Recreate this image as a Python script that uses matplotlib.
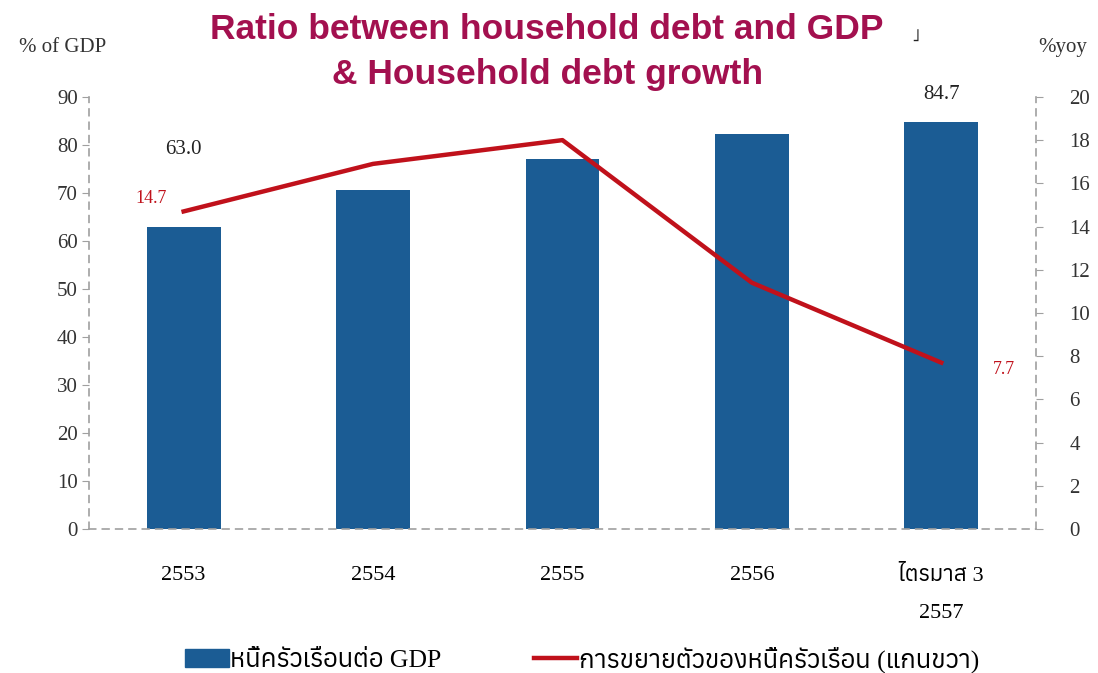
import matplotlib
matplotlib.use("Agg")
import matplotlib.pyplot as plt
from matplotlib import font_manager
from matplotlib.ft2font import FT2Font
from matplotlib.patches import Patch
from matplotlib.lines import Line2D
import numpy as np

categories = ["2553", "2554", "2555", "2556", "ไตรมาส 3\n2557"]
debt_to_gdp = [63.0, 70.6, 77.1, 82.3, 84.7]
debt_growth = [14.7, 16.9, 18.0, 11.4, 7.7]
left_ticks = [0, 10, 20, 30, 40, 50, 60, 70, 80, 90]
right_ticks = [0, 2, 4, 6, 8, 10, 12, 14, 16, 18, 20]

# find a font that has Thai glyphs
thai_fonts = []
for f in font_manager.findSystemFonts():
    try:
        ft = FT2Font(f)
        cm = ft.get_charmap()
        if ord("ห") in cm and ord("ค") in cm:
            thai_fonts.append(font_manager.FontProperties(fname=f).get_name())
    except Exception:
        pass
thai_fonts = sorted(set(thai_fonts))
serif = ["Liberation Serif"] + thai_fonts + ["DejaVu Sans"]

plt.rcParams["font.family"] = serif

BAR = "#1b5c94"
RED = "#c0111b"
TITLE = "#a3104f"
GRAY = "#a0a0a0"

fig = plt.figure(figsize=(10.98, 6.73), dpi=100)
ax = fig.add_axes([0.081, 0.214, 0.8625, 0.642])
ax2 = ax.twinx()

x = np.arange(len(categories))
ax.bar(x, debt_to_gdp, width=0.39, color=BAR, zorder=2)
ax2.plot(x, debt_growth, color=RED, lw=3.2, zorder=3)

ax.set_xlim(-0.5, 4.5)
ax.set_ylim(0, 90)
ax2.set_ylim(0, 20)
ax.set_yticks(left_ticks)
ax2.set_yticks(right_ticks)
ax.set_xticks(x)
ax.set_xticklabels(categories, fontsize=16, linespacing=2.25, va="top")
ax.tick_params(axis="x", length=0, pad=27)
ax.tick_params(axis="y", labelsize=15, length=5, color=GRAY, pad=3, labelcolor="#333333")
ax2.tick_params(axis="y", labelsize=15, length=5, color=GRAY, pad=19, labelcolor="#333333")

for a in (ax, ax2):
    a.spines["top"].set_visible(False)
    for s in ("left", "right", "bottom"):
        a.spines[s].set_linestyle((0, (4, 4)))
        a.spines[s].set_color(GRAY)
        a.spines[s].set_linewidth(1.2)
ax2.spines["bottom"].set_visible(False)
ax2.spines["left"].set_visible(False)
ax.spines["right"].set_visible(False)

# data labels
ax.text(x[0], 79, f"{debt_to_gdp[0]:.1f}", ha="center", va="center", fontsize=15, color="#222222")
ax.text(x[4], 90.4, f"{debt_to_gdp[4]:.1f}", ha="center", va="center", fontsize=15, color="#222222", clip_on=False)
ax2.text(x[0] - 0.09, debt_growth[0] + 0.6, f"{debt_growth[0]:.1f}", ha="right", va="center", fontsize=13, color=RED)
ax2.text(x[4] + 0.27, debt_growth[4] - 0.3, f"{debt_growth[4]:.1f}", ha="left", va="center", fontsize=13, color=RED)

fig.text(0.057, 0.93, "% of GDP", ha="center", va="center", fontsize=15, color="#333333")
fig.text(0.968, 0.93, "%yoy", ha="center", va="center", fontsize=15, color="#333333")

fig.text(0.498, 0.956, "Ratio between household debt and GDP", ha="center", va="center",
         fontsize=25.5, fontweight="bold", color=TITLE, family="Liberation Sans")
fig.text(0.834, 0.945, "˩", ha="center", va="center", fontsize=12, color="#222222", family="DejaVu Sans")
fig.text(0.499, 0.89, "& Household debt growth", ha="center", va="center",
         fontsize=25.5, fontweight="bold", color=TITLE, family="Liberation Sans")

handles = [Patch(facecolor=BAR, edgecolor=BAR),
           Line2D([0], [0], color=RED, lw=3.2)]
labels = ["หนี้ครัวเรือนต่อ GDP", "การขยายตัวของหนี้ครัวเรือน (แกนขวา)"]
fig.legend(handles, labels, loc="center", bbox_to_anchor=(0.53, 0.02), ncol=2, frameon=False,
           fontsize=18.5, handlelength=1.7, handletextpad=0.05, columnspacing=3.6)

fig.savefig("out.png", dpi=100)
